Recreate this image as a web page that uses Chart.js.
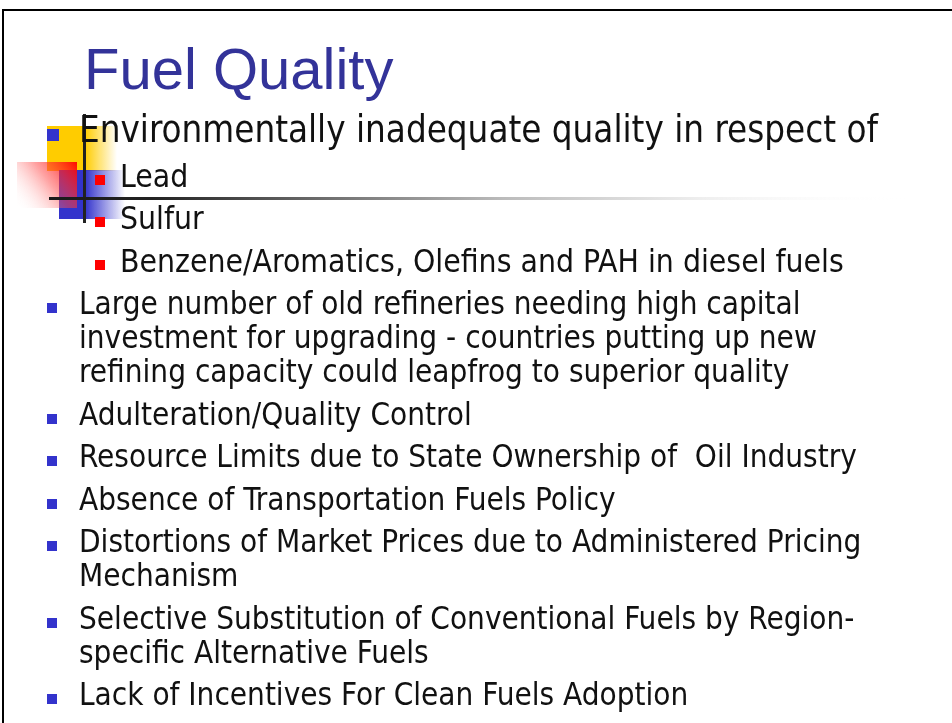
<!DOCTYPE html>
<html>
  <head>
    <title>Fuel Quality</title>
    <script src="https://cdn.jsdelivr.net/npm/chart.js@4.4.1/dist/chart.umd.min.js"></script>
    <style>
      html,body{
        width: 952px;
        height: 723px;
        margin: 0;
        padding: 0;
        overflow: hidden;
        background: #fff;
      }
      #slide{
        position: absolute;
        left: 2px;
        top: 9px;
        width: 960px;
        height: 730px;
        border-left: 2px solid #000;
        border-top: 2px solid #000;
      }
      #logo{
        position: absolute;
        left: 0;
        top: 100px;
      }
      #title{
        position: absolute;
        left: 84px;
        top: 37px;
        margin: 0;
        font-family: "Liberation Sans", Arial, sans-serif;
        font-weight: normal;
        font-size: 58px;
        line-height: 64px;
        color: #333399;
        white-space: nowrap;
      }
      #points{
        position: absolute;
        left: 0;
        top: 110px;
        margin: 0;
        padding: 0;
        list-style: none;
        font-family: "DejaVu Sans Condensed", "DejaVu Sans", sans-serif;
        color: #111;
      }
      #points li{
        position: relative;
        white-space: pre;
        font-size: 31.2px;
        line-height: 34px;
        margin-top: 8.5px;
      }
      #points li::before{
        content: "";
        position: absolute;
        background: #3333cc;
      }
      #points li.main{ padding-left: 79px; }
      #points li.main::before{ left: 47px; top: 17px; width: 10px; height: 10px; }
      #points li.lead{ font-size: 36.4px; line-height: 40px; margin-top: 0; }
      #points li.lead::before{ top: 19px; width: 12px; height: 12px; }
      #points li.sub{ padding-left: 120px; font-size: 31.6px; }
      #points li.sub::before{ left: 95px; top: 16px; width: 10px; height: 10px; background: #ff0000; }
    </style>
  </head>
  <body>
    <canvas id="logo" width="952" height="130"></canvas>
    <div id="slide"></div>
    <h1 id="title"></h1>
    <ul id="points"></ul>

    <script>
      // slide texts
      const titleText = 'Fuel Quality'
      const leadPoint = ['Environmentally inadequate quality in respect of']
      const subPoints = [
        ['Lead'],
        ['Sulfur'],
        ['Benzene/Aromatics, Olefins and PAH in diesel fuels']
      ]
      const mainPoints = [
        ['Large number of old refineries needing high capital',
         'investment for upgrading - countries putting up new',
         'refining capacity could leapfrog to superior quality'],
        ['Adulteration/Quality Control'],
        ['Resource Limits due to State Ownership of  Oil Industry'],
        ['Absence of Transportation Fuels Policy'],
        ['Distortions of Market Prices due to Administered Pricing',
         'Mechanism'],
        ['Selective Substitution of Conventional Fuels by Region-',
         'specific Alternative Fuels'],
        ['Lack of Incentives For Clean Fuels Adoption']
      ]

      // logo pieces in slide pixels: [x0, x1, y0, y1]
      const logoYellow = [47, 85, 126, 171]
      const logoBlue = [59, 85, 170, 219]
      const logoRed = [17, 77, 162, 208]
      const logoVLine = [83, 86, 114, 223]
      const logoHLine = [49, 905, 197, 200]

      document.getElementById('title').textContent = titleText

      const ul = document.getElementById('points')
      function addItem(lines, cls){
        const li = document.createElement('li')
        li.className = cls
        li.textContent = lines.join('\n')
        ul.append(li)
      }
      addItem(leadPoint, 'main lead')
      subPoints.forEach(p => addItem(p, 'sub'))
      mainPoints.forEach(p => addItem(p, 'main'))

      const logoPlugin = {
        id: 'logo',
        beforeDraw(chart){
          const ctx = chart.ctx
          const sx = chart.scales.x, sy = chart.scales.y
          const box = r => [sx.getPixelForValue(r[0]), sy.getPixelForValue(r[2]),
                            sx.getPixelForValue(r[1]) - sx.getPixelForValue(r[0]),
                            sy.getPixelForValue(r[3]) - sy.getPixelForValue(r[2])]
          ctx.save()

          // yellow square with fade to the right
          let [x, y, w, h] = box(logoYellow)
          let g = ctx.createLinearGradient(x, 0, x + w + 32, 0)
          g.addColorStop(0, '#ffcc00')
          g.addColorStop(w / (w + 32), '#ffcc00')
          g.addColorStop(1, 'rgba(255,204,0,0)')
          ctx.fillStyle = g
          ctx.fillRect(x, y, w + 32, h)

          // blue square with fade
          ;[x, y, w, h] = box(logoBlue)
          g = ctx.createLinearGradient(x, 0, x + w + 40, 0)
          g.addColorStop(0, '#3333cc')
          g.addColorStop(w / (w + 40), '#3333cc')
          g.addColorStop(1, 'rgba(51,51,204,0)')
          ctx.fillStyle = g
          ctx.fillRect(x, y, w + 40, h)

          // red square, diagonal fade
          ;[x, y, w, h] = box(logoRed)
          g = ctx.createLinearGradient(x + w, y, x, y + h)
          g.addColorStop(0, 'rgba(255,0,0,0.95)')
          g.addColorStop(0.45, 'rgba(255,70,70,0.5)')
          g.addColorStop(1, 'rgba(255,255,255,0)')
          ctx.fillStyle = g
          ctx.fillRect(x, y, w, h)

          // bullet of the first point over the yellow square
          ctx.fillStyle = '#3333cc'
          ctx.fillRect(sx.getPixelForValue(47), sy.getPixelForValue(129), 12, 12)

          // vertical bar
          ;[x, y, w, h] = box(logoVLine)
          ctx.fillStyle = '#222'
          ctx.fillRect(x, y, w, h)

          // horizontal bar, fading out to the right
          ;[x, y, w, h] = box(logoHLine)
          g = ctx.createLinearGradient(x, 0, x + w, 0)
          g.addColorStop(0, '#1a1a1a')
          g.addColorStop(0.12, '#222')
          g.addColorStop(0.3, '#666')
          g.addColorStop(0.53, '#bbb')
          g.addColorStop(0.76, '#eee')
          g.addColorStop(1, 'rgba(255,255,255,0)')
          ctx.fillStyle = g
          ctx.fillRect(x, y, w, h)

          ctx.restore()
        }
      }

      new Chart(document.getElementById('logo').getContext('2d'), {
        type: 'scatter',
        data: { datasets: [{ data: [] }] },
        options: {
          responsive: false,
          animation: false,
          events: [],
          layout: { padding: 0 },
          plugins: { legend: { display: false }, tooltip: { enabled: false } },
          scales: {
            x: { type: 'linear', min: 0, max: 952, display: false },
            y: { type: 'linear', min: 100, max: 230, reverse: true, display: false }
          }
        },
        plugins: [logoPlugin]
      })
    </script>
  </body>
</html>
